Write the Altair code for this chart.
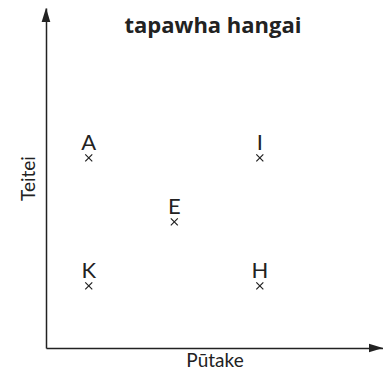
import altair as alt
import pandas as pd

# Point data
labels = ["A", "I", "E", "K", "H"]
xs = [1, 3, 2, 1, 3]
ys = [3, 3, 2, 1, 1]

# Chart texts
title_text = ["tapawha hangai"]
x_title = "Pūtake"
y_title = "Teitei"

# Axis extents (data units)
x_domain = [0.5, 4.44]
y_domain = [0.03, 5.34]

points = pd.DataFrame({"x": xs, "y": ys, "label": labels})
titles = pd.DataFrame({"t": title_text})

# arrow heads sit at the far ends of the two axes
arrows = pd.DataFrame({
    "x": [x_domain[0], x_domain[1] - 0.082],
    "y": [y_domain[1] - 0.11, y_domain[0]],
    "shape": ["M0,-1L0.62,1L-0.62,1Z", "M1,0L-1,-0.62L-1,0.62Z"],
})

INK = "#222222"
FONT = "Lato"
W, H = 337, 340

xenc = alt.X("x:Q", scale=alt.Scale(domain=x_domain, nice=False, zero=False),
             axis=alt.Axis(title=x_title, labels=False, ticks=False, grid=False,
                           domainColor=INK, domainWidth=1.5,
                           titleFont=FONT, titleFontSize=19, titleFontWeight="normal",
                           titleColor=INK, titlePadding=3))
yenc = alt.Y("y:Q", scale=alt.Scale(domain=y_domain, nice=False, zero=False),
             axis=alt.Axis(title=y_title, labels=False, ticks=False, grid=False,
                           domainColor=INK, domainWidth=1.5,
                           titleFont=FONT, titleFontSize=19, titleFontWeight="normal",
                           titleColor=INK, titlePadding=8))

marks = alt.Chart(points).mark_point(
    shape="M-1,-1L1,1M-1,1L1,-1", size=49, filled=False,
    color=INK, strokeWidth=1.2, opacity=1
).encode(x=xenc, y=yenc)

text = alt.Chart(points).mark_text(
    font=FONT, fontSize=22, color=INK, baseline="alphabetic", align="center", dy=-8
).encode(x="x:Q", y="y:Q", text="label:N")

heads = alt.Chart(arrows).mark_point(
    filled=True, size=196, color=INK, opacity=1, strokeWidth=0
).encode(x="x:Q", y="y:Q", shape=alt.Shape("shape:N", scale=None))

title = alt.Chart(titles).mark_text(
    font="Open Sans", fontSize=22, fontWeight="bold", color=INK,
    align="center", baseline="alphabetic"
).encode(text="t:N", x=alt.value(167), y=alt.value(25))

chart = alt.layer(marks, text, heads, title).properties(
    width=W, height=H,
    autosize=alt.AutoSizeParams(type="none"),
    padding={"left": 38, "top": 0, "right": 0, "bottom": 24},
).configure_view(stroke=None)

chart.save("out.html", embed_options={"renderer": "svg", "actions": False})
